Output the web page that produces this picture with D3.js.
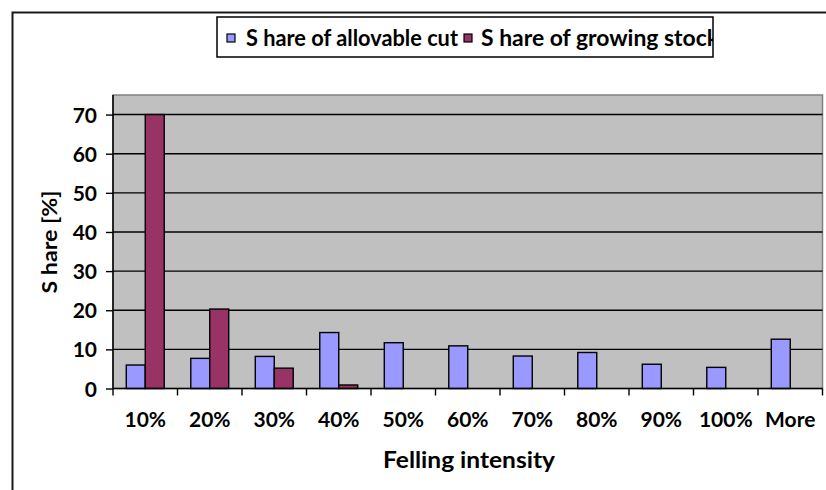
<!DOCTYPE html>
<html>
<head>
<meta charset="utf-8">
<script src="https://cdn.jsdelivr.net/npm/d3@7/dist/d3.min.js"></script>
<style>
  html, body { margin: 0; padding: 0; background: #fff; }
  svg { display: block; }
  text { font-family: Lato, "DejaVu Sans", sans-serif; font-weight: bold; fill: #000; }
</style>
</head>
<body>
<svg id="chart" width="826" height="490"></svg>
<script>
// Felling intensity classes
const categories = ["10%", "20%", "30%", "40%", "50%", "60%", "70%", "80%", "90%", "100%", "More"];
// Share of allowable cut per class [%]
const allowableCut = [6.0, 7.7, 8.2, 14.3, 11.7, 10.9, 8.3, 9.2, 6.2, 5.4, 12.6];
// Share of growing stock per class [%]
const growingStock = [70.0, 20.3, 5.2, 0.9, 0, 0, 0, 0, 0, 0, 0];
const seriesNames = ["S hare of allovable cut", "S hare of growing stock"];
const seriesColors = ["#9999FF", "#993366"];
const yTicks = [0, 10, 20, 30, 40, 50, 60, 70];

const svg = d3.select("#chart");
const plot = { left: 113, right: 822.5, top: 95, bottom: 388.5 };

// Outer chart frame
svg.append("rect")
  .attr("x", 12.5).attr("y", 12.5).attr("width", 830).attr("height", 500)
  .attr("fill", "#fff").attr("stroke", "#1a1a1a").attr("stroke-width", 2);

const x0 = d3.scaleBand().domain(categories).range([plot.left, plot.right]).padding(0);
const x1 = d3.scaleBand().domain([0, 1]).range([0, x0.bandwidth()]).paddingInner(0).paddingOuter(0.7);
const y = d3.scaleLinear().domain([0, 75]).range([plot.bottom, plot.top]);

// Plot area background
svg.append("rect")
  .attr("x", plot.left).attr("y", plot.top)
  .attr("width", plot.right - plot.left).attr("height", plot.bottom - plot.top)
  .attr("fill", "#C0C0C0").attr("stroke", "#808080").attr("stroke-width", 1.5);

// Horizontal gridlines
svg.append("g").selectAll("line")
  .data(yTicks.filter(d => d > 0))
  .join("line")
  .attr("x1", plot.left).attr("x2", plot.right)
  .attr("y1", d => y(d)).attr("y2", d => y(d))
  .attr("stroke", "#000").attr("stroke-width", 1.4);

// Bars
const rows = categories.map((c, i) => ({ cat: c, vals: [allowableCut[i], growingStock[i]] }));
const groups = svg.append("g").selectAll("g")
  .data(rows).join("g")
  .attr("transform", d => `translate(${x0(d.cat)},0)`);
groups.selectAll("rect")
  .data(d => d.vals.map((v, k) => ({ k, v })).filter(e => e.v > 0))
  .join("rect")
  .attr("x", e => x1(e.k))
  .attr("width", x1.bandwidth())
  .attr("y", e => y(e.v))
  .attr("height", e => y(0) - y(e.v))
  .attr("fill", e => seriesColors[e.k])
  .attr("stroke", "#000").attr("stroke-width", 1.4);

// Y axis
const yAxis = svg.append("g")
  .attr("transform", `translate(${plot.left},0)`)
  .call(d3.axisLeft(y).tickValues(yTicks).tickSize(7).tickPadding(9));
yAxis.attr("font-family", null).attr("font-size", null);
yAxis.select(".domain").attr("stroke", "#000").attr("stroke-width", 1.5)
  .attr("d", `M0,${plot.bottom}V${plot.top}`);
yAxis.selectAll(".tick line").attr("stroke", "#000").attr("stroke-width", 1.4);
yAxis.selectAll(".tick text").attr("font-size", 21).attr("dy", "0.36em");

// X axis: ticks at category boundaries
const xAxisG = svg.append("g");
xAxisG.append("line")
  .attr("x1", plot.left).attr("x2", plot.right)
  .attr("y1", plot.bottom).attr("y2", plot.bottom)
  .attr("stroke", "#000").attr("stroke-width", 1.5);
xAxisG.selectAll("line.tk")
  .data(categories.concat(["end"]))
  .join("line").attr("class", "tk")
  .attr("x1", (d, i) => i < categories.length ? x0(d) : plot.right)
  .attr("x2", (d, i) => i < categories.length ? x0(d) : plot.right)
  .attr("y1", plot.bottom).attr("y2", plot.bottom + 7)
  .attr("stroke", "#000").attr("stroke-width", 1.4);
xAxisG.selectAll("text")
  .data(categories).join("text")
  .attr("x", d => x0(d) + x0.bandwidth() / 2)
  .attr("y", 427)
  .attr("text-anchor", "middle")
  .attr("font-size", 21)
  .text(d => d);

// Axis titles
svg.append("text")
  .attr("x", 469).attr("y", 468)
  .attr("text-anchor", "middle").attr("font-size", 22)
  .attr("textLength", 172).attr("lengthAdjust", "spacingAndGlyphs")
  .text("Felling intensity");
svg.append("text")
  .attr("transform", "translate(57,242) rotate(-90)")
  .attr("text-anchor", "middle").attr("font-size", 21)
  .attr("textLength", 103).attr("lengthAdjust", "spacingAndGlyphs")
  .text("S hare [%]");

// Legend
const legend = { x: 217, y: 17, w: 496, h: 40 };
svg.append("defs").append("clipPath").attr("id", "legendClip")
  .append("rect").attr("x", legend.x).attr("y", legend.y).attr("width", legend.w).attr("height", legend.h);
svg.append("rect")
  .attr("x", legend.x).attr("y", legend.y).attr("width", legend.w).attr("height", legend.h)
  .attr("fill", "#fff").attr("stroke", "#000").attr("stroke-width", 1.5);
const legItems = [{ sx: 227, tx: 246, w: 212 }, { sx: 464, tx: 481, w: 238 }];
const lg = svg.append("g").attr("clip-path", "url(#legendClip)");
lg.selectAll("text")
  .data(seriesNames).join("text")
  .attr("x", (d, i) => legItems[i].tx).attr("y", 46)
  .attr("font-size", 22)
  .attr("textLength", (d, i) => legItems[i].w).attr("lengthAdjust", "spacingAndGlyphs")
  .text(d => d);
lg.selectAll("rect")
  .data(seriesNames).join("rect")
  .attr("x", (d, i) => legItems[i].sx).attr("y", 34)
  .attr("width", 8).attr("height", 8)
  .attr("fill", (d, i) => seriesColors[i]).attr("stroke", "#000").attr("stroke-width", 1.2);
</script>
</body>
</html>
